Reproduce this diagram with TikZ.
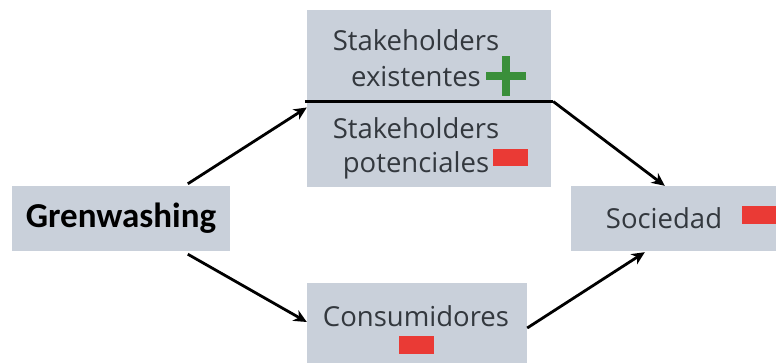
\documentclass[tikz,border=0pt]{standalone}
\usepackage{fontspec}
\setmainfont{Open Sans}
\newfontfamily\calib{Carlito}
\usetikzlibrary{arrows.meta,calc}
\definecolor{boxfill}{HTML}{C9D0DA}
\definecolor{txt}{HTML}{33383E}
\definecolor{minusred}{HTML}{EA3A35}
\definecolor{plusgreen}{HTML}{3A8F3A}
\tikzset{
  box/.style={fill=boxfill, draw=none, inner sep=0pt},
  lbl/.style={text=txt, font=\fontsize{27.5}{32}\selectfont, inner sep=0pt, anchor=center},
  minus/.style={fill=minusred, draw=none, inner sep=0pt},
  arr/.style={line width=2.8pt, -{Stealth[length=13pt,width=12pt,inset=4pt]}, black}
}
\begin{document}
\begin{tikzpicture}[x=1pt,y=-1pt]
\useasboundingbox (0,0) rectangle (776,363);
% boxes
\node[box, minimum width=244pt, minimum height=177pt] (top) at (429,98.5) {};
\node[box, minimum width=218pt, minimum height=65pt] (g) at (121,218.5) {};
\node[box, minimum width=206pt, minimum height=65pt] (s) at (674,218.5) {};
\node[box, minimum width=220pt, minimum height=82pt] (c) at (417,324) {};
% divider
\draw[line width=2.8pt, black] ($(top.west)+(-2,3)$) coordinate (dl) -- ($(top.east)+(2,3)$) coordinate (dr);
% texts
\node[lbl] (t1) at (416,40) {Stakeholders};
\node[lbl] (t2) at (416,77) {existentes};
\node[lbl] (t3) at (416,128) {Stakeholders};
\node[lbl] (t4) at (416,165) {potenciales};
\node[text=black, font=\calib\bfseries\fontsize{35}{40}\selectfont, inner sep=0pt] (gt) at (121,218) {Grenwashing};
\node[lbl] (st) at (664,218) {Sociedad};
\node[lbl] (ct) at (416,316) {Consumidores};
% signs
\node[minus, minimum width=35pt, minimum height=17pt] (m1) at (510.5,158) {};
\node[minus, minimum width=36pt, minimum height=18pt] (m2) at (760,215) {};
\node[minus, minimum width=35pt, minimum height=18pt] (m3) at (416.5,345) {};
\node[inner sep=0pt, minimum size=39pt] (p1) at (506,76) {};
\draw[plusgreen, line width=7.5pt] (p1.west) -- (p1.east) (p1.north) -- (p1.south);
% arrows
\coordinate (a1s) at ($(g.north west)+(176,-2)$);
\coordinate (a1e) at ($(top.west)+(0,9)$);
\coordinate (a2s) at ($(g.south west)+(176,3)$);
\coordinate (a2e) at ($(c.west)+(0,-2)$);
\coordinate (a3s) at ($(dr)+(0,0)$);
\coordinate (a3e) at ($(s.north west)+(94,0)$);
\coordinate (a4s) at ($(c.east)+(0,4)$);
\coordinate (a4e) at ($(s.south west)+(74,1)$);
\draw[arr] (a1s) -- (a1e);
\draw[arr] (a2s) -- (a2e);
\draw[arr] (a3s) -- (a3e);
\draw[arr] (a4s) -- (a4e);
\end{tikzpicture}
\end{document}
